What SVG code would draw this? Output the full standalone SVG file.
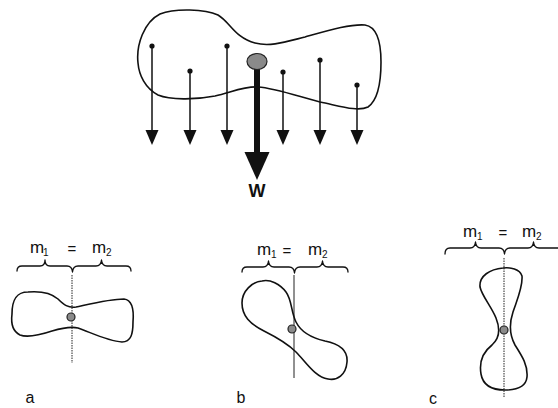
<svg xmlns="http://www.w3.org/2000/svg" width="558" height="408" viewBox="0 0 558 408">
<defs>
<style>
.outline{fill:none;stroke:#111;stroke-width:1.6;stroke-linejoin:round}
.force{stroke:#111;stroke-width:1.5;fill:none}
.head{fill:#111}
.dot{fill:#111}
.cg{fill:#8a8a8a;stroke:#222;stroke-width:1.2}
.brace{fill:none;stroke:#111;stroke-width:1.3;stroke-linejoin:round;stroke-linecap:round}
.axis{stroke:#222;stroke-width:1}
.dotted{stroke-dasharray:1.5 1}
.lbl{font-family:"Liberation Sans",Arial,sans-serif;fill:#111}
.m{font-size:17px}
.sub{font-size:10px}
.eq{font-size:15px}
.cap{font-size:16px}
</style>
</defs>
<rect width="558" height="408" fill="#fff"/>

<g id="body-top">
<path class="outline" d="M138,63 C136,45 144,22 160,14 C175,8 205,9 218,15 C230,22 235,38 255,43 C270,47 285,42 305,37 C330,30 350,24 365,25 C378,27 381,45 381,62 C381,80 378,100 368,107 C358,112 340,106 320,102 C300,97 275,88 258,87 C245,86 232,92 215,96 C195,100 170,100 158,95 C145,88 139,75 138,63 Z"/>
</g>

<g id="connectors">
<g id="f1"><circle class="dot" cx="152" cy="46" r="2.6"/><line class="force" x1="152" y1="46" x2="152" y2="131"/><polygon class="head" points="145.5,130 158.5,130 152,145"/></g>
<g id="f2"><circle class="dot" cx="190" cy="71" r="2.6"/><line class="force" x1="190" y1="71" x2="190" y2="131"/><polygon class="head" points="183.5,130 196.5,130 190,145"/></g>
<g id="f3"><circle class="dot" cx="227" cy="46" r="2.6"/><line class="force" x1="227" y1="46" x2="227" y2="131"/><polygon class="head" points="220.5,130 233.5,130 227,145"/></g>
<g id="f4"><circle class="dot" cx="283" cy="72" r="2.6"/><line class="force" x1="283" y1="72" x2="283" y2="131"/><polygon class="head" points="276.5,130 289.5,130 283,145"/></g>
<g id="f5"><circle class="dot" cx="320" cy="60" r="2.6"/><line class="force" x1="320" y1="60" x2="320" y2="131"/><polygon class="head" points="313.5,130 326.5,130 320,145"/></g>
<g id="f6"><circle class="dot" cx="357" cy="85" r="2.6"/><line class="force" x1="357" y1="85" x2="357" y2="131"/><polygon class="head" points="350.5,130 363.5,130 357,145"/></g>
<g id="weight">
<rect x="254" y="66" width="6" height="88" fill="#111"/>
<polygon class="head" points="244.5,152 269.5,152 257,180"/>
</g>
</g>

<g id="cg-top">
<ellipse class="cg" cx="257" cy="61.5" rx="10" ry="8"/>
</g>
<g id="label-W">
<text class="lbl" x="257" y="197" text-anchor="middle" font-size="18" font-weight="bold">W</text>
</g>

<g id="panel-a">
<text class="lbl m" x="30" y="253">m</text><text class="lbl sub" x="43" y="256">1</text>
<text class="lbl eq" x="72" y="254" text-anchor="middle">=</text>
<text class="lbl m" x="92" y="253">m</text><text class="lbl sub" x="106" y="256">2</text>
<path class="brace" d="M17,271 Q17,266 22,266 L40,266 Q45,266 45,260 Q45,266 50,266 L67,266 Q72,266 72.5,272 Q73,266 78,266 L96,266 Q101,266 101.5,260 Q102,266 107,266 L126,266 Q131,266 131,271"/>
<line class="axis dotted" x1="72" y1="275" x2="72" y2="363"/>
<path class="outline" d="M12,314 C12,300 16,292 28,292 C40,291 50,292 58,299 C64,305 68,308 76,307 C90,304 110,299 124,299 C133,300 134,310 133,322 C133,334 131,342 122,342 C108,341 92,333 78,328 C70,326 62,328 52,331 C40,335 28,338 20,335 C12,331 11,322 12,314 Z"/>
<circle class="cg" cx="71" cy="317" r="4"/>
<text class="lbl cap" x="30" y="403" text-anchor="middle">a</text>
</g>

<g id="panel-b">
<text class="lbl m" x="257" y="255">m</text><text class="lbl sub" x="271" y="258">1</text>
<text class="lbl eq" x="287" y="256" text-anchor="middle">=</text>
<text class="lbl m" x="308" y="255">m</text><text class="lbl sub" x="322" y="258">2</text>
<path class="brace" d="M242,272 Q242,267 247,267 L263,267 Q268,267 268.5,261 Q269,267 274,267 L289,267 Q294,267 294.5,273 Q295,267 300,267 L317,267 Q322,267 322.5,261 Q323,267 328,267 L343,267 Q348,267 348,272"/>
<line class="axis" x1="294" y1="275" x2="294" y2="378"/>
<path class="outline" d="M262,281 C270,279 280,284 286,292 C292,300 291,312 296,322 C301,332 312,338 325,341 C340,344 348,350 347,362 C346,375 337,381 328,379 C315,377 306,362 296,352 C287,343 276,337 264,331 C250,324 242,316 242,303 C242,291 252,282 262,281 Z"/>
<circle class="cg" cx="292" cy="329" r="4"/>
<text class="lbl cap" x="241" y="403" text-anchor="middle">b</text>
</g>

<g id="panel-c">
<text class="lbl m" x="463" y="237">m</text><text class="lbl sub" x="477" y="240">1</text>
<text class="lbl eq" x="503" y="238" text-anchor="middle">=</text>
<text class="lbl m" x="522" y="237">m</text><text class="lbl sub" x="536" y="240">2</text>
<path class="brace" d="M445,254 Q445,248 450,248 L470,248 Q475,248 475.5,242 Q476,248 481,248 L499,248 Q504,248 504.5,254 Q505,248 510,248 L528,248 Q533,248 533.5,242 Q534,248 539,248 L558,248 Q563,248 563,254"/>
<line class="axis dotted" x1="504" y1="258" x2="504" y2="397"/>
<path class="outline" d="M503,268 C510,267 520,269 522,276 C523,287 517,300 513,312 C509,324 509,334 515,345 C522,356 528,365 527,377 C526,387 517,390 505,390 C492,390 483,386 481,374 C479,362 483,352 492,345 C500,338 500,328 496,318 C491,306 482,296 480,287 C479,276 490,269 503,268 Z"/>
<circle class="cg" cx="504" cy="330" r="4"/>
<text class="lbl cap" x="433" y="404" text-anchor="middle">c</text>
</g>
</svg>
